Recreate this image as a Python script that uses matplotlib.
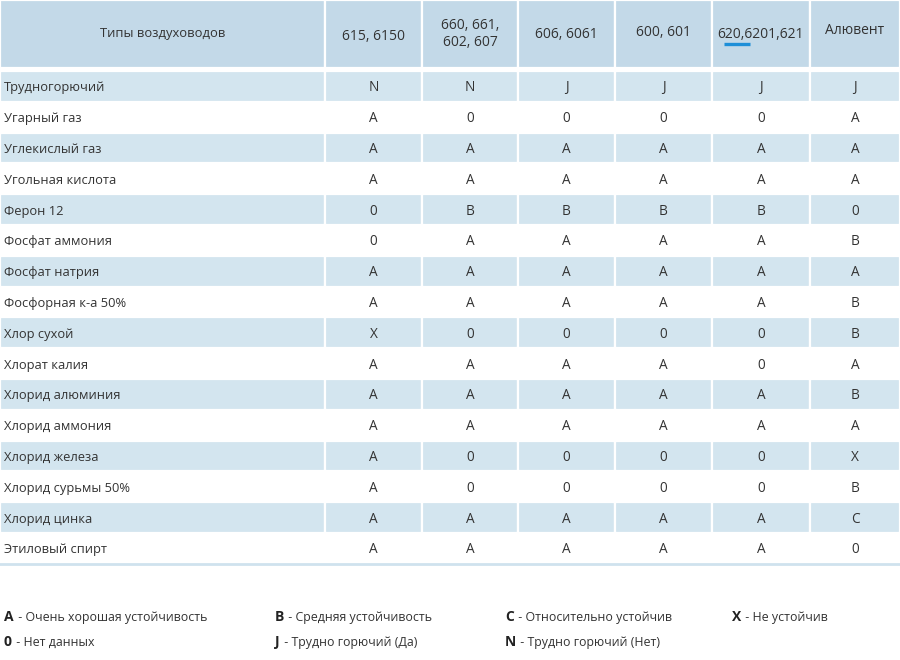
import matplotlib
matplotlib.use("Agg")
import matplotlib.pyplot as plt
from matplotlib.patches import Rectangle

plt.rcParams['font.family'] = ['Open Sans', 'DejaVu Sans']

# Заголовки столбцов
header_first = "Типы воздуховодов"
columns = ["615, 6150", "660, 661,\n602, 607", "606, 6061", "600, 601", "620,6201,621", "Алювент"]

# Вещества (строки)
substances = [
    "Трудногорючий", "Угарный газ", "Углекислый газ", "Угольная кислота",
    "Ферон 12", "Фосфат аммония", "Фосфат натрия", "Фосфорная к-а 50%",
    "Хлор сухой", "Хлорат калия", "Хлорид алюминия", "Хлорид аммония",
    "Хлорид железа", "Хлорид сурьмы 50%", "Хлорид цинка", "Этиловый спирт",
]

# Устойчивость по типам воздуховодов
values = [
    ["N", "N", "J", "J", "J", "J"],
    ["A", "0", "0", "0", "0", "A"],
    ["A", "A", "A", "A", "A", "A"],
    ["A", "A", "A", "A", "A", "A"],
    ["0", "B", "B", "B", "B", "0"],
    ["0", "A", "A", "A", "A", "B"],
    ["A", "A", "A", "A", "A", "A"],
    ["A", "A", "A", "A", "A", "B"],
    ["X", "0", "0", "0", "0", "B"],
    ["A", "A", "A", "A", "0", "A"],
    ["A", "A", "A", "A", "A", "B"],
    ["A", "A", "A", "A", "A", "A"],
    ["A", "0", "0", "0", "0", "X"],
    ["A", "0", "0", "0", "0", "B"],
    ["A", "A", "A", "A", "A", "C"],
    ["A", "A", "A", "A", "A", "0"],
]

# Обозначения
legend_keys = ["A", "B", "C", "X", "0", "J", "N"]
legend_texts = ["Очень хорошая устойчивость", "Средняя устойчивость",
                "Относительно устойчив", "Не устойчив", "Нет данных",
                "Трудно горючий (Да)", "Трудно горючий (Нет)"]

# Разметка (в пикселях)
col_edges = [0, 325, 422, 518, 615, 712, 810, 900]
header_yc = [32, 36, 33, 34, 31, 33, 30]
header_h = 68
row_top = 71
row_h = 30.8
header_bg = "#c3d9e8"
row_bg = "#d3e5ef"
txt = "#333333"

fig = plt.figure(figsize=(9, 6.6), dpi=100)
ax = fig.add_axes([0, 0, 1, 1])
ax.set_xlim(0, 900)
ax.set_ylim(660, 0)
ax.axis("off")

# шапка
for j in range(len(col_edges) - 1):
    x0, x1 = col_edges[j], col_edges[j + 1]
    ax.add_patch(Rectangle((x0, 0), x1 - x0, header_h, facecolor=header_bg,
                           edgecolor="white", linewidth=1.6))
    label = header_first if j == 0 else columns[j - 1]
    fs = 9.4 if j == 0 else 10
    ax.text((x0 + x1) / 2, header_yc[j] + 1, label, ha="center", va="center",
            fontsize=fs, color=txt, linespacing=1.2)

# подчёркивание у "620"
ax.plot([724, 750], [43.5, 43.5], color="#1e8fd8", linewidth=2.4,
        solid_capstyle="butt")

# строки таблицы
for i, name in enumerate(substances):
    y0 = row_top + i * row_h
    yc = y0 + row_h / 2
    if i % 2 == 0:
        for j in range(len(col_edges) - 1):
            x0, x1 = col_edges[j], col_edges[j + 1]
            ax.add_patch(Rectangle((x0, y0), x1 - x0, row_h, facecolor=row_bg,
                                   edgecolor="white", linewidth=1.6))
    ax.text(4, yc + 5, name, ha="left", va="baseline", fontsize=9.3, color=txt)
    for j, v in enumerate(values[i]):
        xc = (col_edges[j + 1] + col_edges[j + 2]) / 2
        ax.text(xc, yc + 5, v, ha="center", va="baseline", fontsize=9.8, color=txt)

bottom = row_top + len(substances) * row_h
ax.plot([0, 900], [bottom, bottom], color="#cfe2ee", linewidth=2)

# легенда
leg_x = [4, 275, 505, 732]
leg_y = [621, 646]
fig.canvas.draw()
renderer = fig.canvas.get_renderer()
for k, (key, t) in enumerate(zip(legend_keys, legend_texts)):
    r, c = divmod(k, 4)
    x, y = leg_x[c], leg_y[r]
    kt = ax.text(x, y, key, ha="left", va="baseline", fontsize=10,
                 color="#222222", fontweight="bold")
    bb = kt.get_window_extent(renderer=renderer)
    ax.text(x + bb.width + 1, y, " - " + t, ha="left", va="baseline",
            fontsize=8.9, color=txt)

fig.savefig("out.png", dpi=100)
